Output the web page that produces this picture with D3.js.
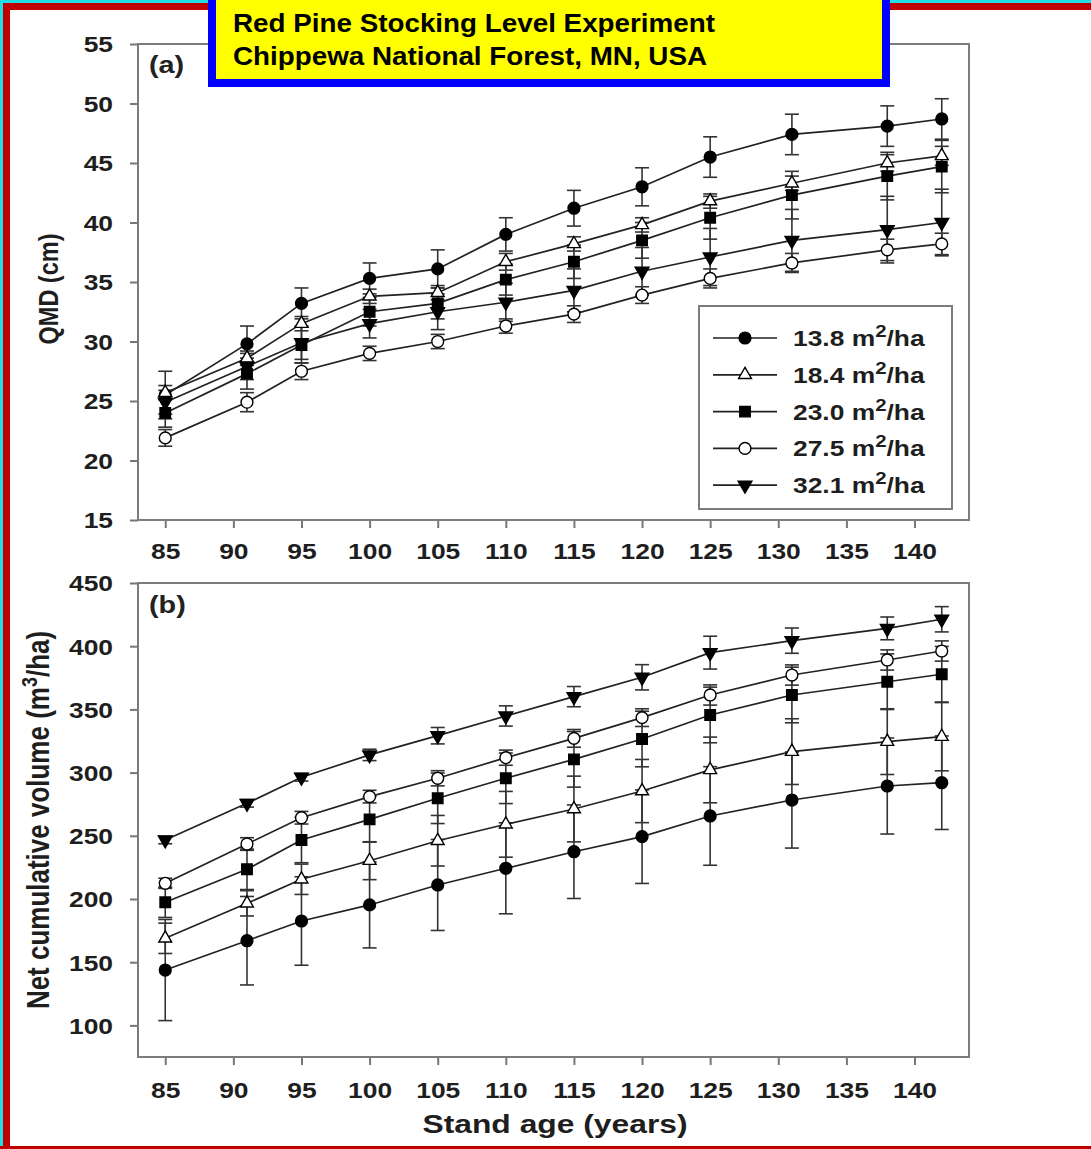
<!DOCTYPE html>
<html lang="en">
<head>
<meta charset="UTF-8">
<title>Red Pine Stocking Level Experiment</title>
<script src="https://cdn.jsdelivr.net/npm/d3@7"></script>
<style>
  body { margin: 0; background: #fff; }
  svg { display: block; }
  text { font-family: "Liberation Sans", Arial, sans-serif; font-weight: bold; }
</style>
</head>
<body>
<script>
// stand ages (years) where plots were measured
const ages = [85, 91, 95, 100, 105, 110, 115, 120, 125, 131, 138, 142]
const ageTicks = [85, 90, 95, 100, 105, 110, 115, 120, 125, 130, 135, 140]
const qmdTicks = [15, 20, 25, 30, 35, 40, 45, 50, 55]
const volTicks = [100, 150, 200, 250, 300, 350, 400, 450]

// stocking levels (m2/ha basal area)
const levels = ["13.8", "18.4", "23.0", "27.5", "32.1"]

// (a) QMD (cm)
const qmd138 = [25.5, 29.8, 33.2, 35.3, 36.1, 39.0, 41.2, 43.0, 45.5, 47.4, 48.1, 48.7]
const qmd184 = [25.7, 28.6, 31.5, 33.8, 34.1, 36.7, 38.2, 39.8, 41.8, 43.3, 45.0, 45.6]
const qmd230 = [24.0, 27.3, 29.7, 32.5, 33.2, 35.2, 36.7, 38.5, 40.4, 42.3, 43.9, 44.7]
const qmd275 = [21.9, 24.9, 27.5, 29.0, 30.0, 31.3, 32.3, 33.9, 35.3, 36.6, 37.7, 38.2]
const qmd321 = [24.9, 27.9, 29.9, 31.5, 32.5, 33.3, 34.3, 35.9, 37.1, 38.5, 39.4, 40.0]
const qmdErr138 = [2.0, 1.5, 1.3, 1.3, 1.6, 1.4, 1.5, 1.6, 1.7, 1.7, 1.7, 1.7]
const qmdErr184 = [0.6, 0.6, 0.6, 0.6, 0.6, 0.7, 0.6, 0.6, 0.6, 0.6, 0.7, 0.8]
const qmdErr230 = [1.2, 1.3, 1.5, 1.2, 1.3, 1.3, 1.4, 1.5, 1.8, 2.0, 2.0, 2.2]
const qmdErr275 = [0.7, 0.8, 0.7, 0.6, 0.6, 0.6, 0.7, 0.7, 0.8, 0.8, 0.9, 0.9]
const qmdErr321 = [1.0, 1.1, 1.4, 1.2, 1.5, 1.6, 1.8, 2.0, 2.4, 2.6, 2.8, 2.8]

// (b) net cumulative volume (m3/ha)
const vol138 = [143.8, 167.0, 182.6, 195.3, 211.1, 224.3, 237.4, 249.3, 265.7, 278.3, 289.4, 292.0]
const vol184 = [168.9, 196.6, 215.6, 230.3, 246.1, 259.1, 271.2, 285.4, 302.1, 316.6, 324.5, 328.4]
const vol230 = [197.4, 223.5, 246.7, 263.0, 279.7, 295.5, 310.5, 326.6, 345.6, 361.4, 371.9, 377.8]
const vol275 = [212.4, 243.5, 264.3, 281.0, 295.5, 311.8, 327.1, 343.5, 361.4, 377.2, 389.1, 396.2]
const vol321 = [246.7, 275.7, 296.3, 314.0, 329.2, 344.8, 360.1, 375.4, 394.9, 404.4, 414.1, 421.3]
const volErr138 = [40, 35, 35, 34, 36, 36, 37, 37, 39, 38, 38, 37]
const volErr184 = [12, 10, 12, 15, 20, 26, 26, 25, 26, 26, 26, 27]
const volErr230 = [12, 16, 18, 18, 20, 20, 22, 22, 22, 22, 22, 22]
const volErr275 = [4, 5, 5, 5, 6, 6, 7, 7, 8, 8, 8, 8]
const volErr321 = [3, 3, 3, 4.5, 6.5, 8, 8, 10, 13, 10, 9, 10]

const W = 1091, H = 1149
const SX = 1.2   // the figure is stretched sideways, so are its letters

// marker look per level
const markers = {
    "13.8": {type: d3.symbolCircle, size: 110, fill: "#000", rot: 0},
    "18.4": {type: d3.symbolTriangle, size: 72, fill: "#fff", rot: 0},
    "23.0": {type: d3.symbolSquare, size: 110, fill: "#000", rot: 0},
    "27.5": {type: d3.symbolCircle, size: 110, fill: "#fff", rot: 0},
    "32.1": {type: d3.symbolTriangle, size: 82, fill: "#000", rot: 180}
}

const svg = d3.select("body").append("svg").attr("width", W).attr("height", H)
svg.append("rect").attr("width", W).attr("height", H).attr("fill", "#fff")

const x = d3.scaleLinear().domain([83, 144]).range([138, 969])

const panels = [
    {
        name: "(a)",
        y: d3.scaleLinear().domain([15, 55]).range([520, 44]),
        ticks: qmdTicks,
        values: [qmd138, qmd184, qmd230, qmd275, qmd321],
        errors: [qmdErr138, qmdErr184, qmdErr230, qmdErr275, qmdErr321],
        nameY: 73
    },
    {
        name: "(b)",
        y: d3.scaleLinear().domain([75, 450]).range([1057, 583]),
        ticks: volTicks,
        values: [vol138, vol184, vol230, vol275, vol321],
        errors: [volErr138, volErr184, volErr230, volErr275, volErr321],
        nameY: 613
    }
]

function drawPanel(p, labelGap) {
    const g = svg.append("g")
    const [y0, y1] = p.y.range()

    //Axes, ticks outward
    const yAxis = d3.axisLeft(p.y).tickValues(p.ticks).tickSize(8).tickSizeOuter(0)
    const ya = g.append("g").attr("transform", `translate(${x.range()[0]},0)`).call(yAxis)
    ya.select(".domain").remove()
    ya.selectAll("line").attr("stroke", "#777").attr("stroke-width", 2)
    ya.selectAll("text")
        .attr("x", -25 / SX).attr("dy", "0.36em")
        .attr("transform", `scale(${SX},1)`)
        .style("font-size", "22px").attr("fill", "#1e1e1e")

    const xAxis = d3.axisBottom(x).tickValues(ageTicks).tickSize(8).tickSizeOuter(0)
    const xa = g.append("g").attr("transform", `translate(0,${y0})`).call(xAxis)
    xa.select(".domain").remove()
    xa.selectAll("line").attr("stroke", "#777").attr("stroke-width", 2)
    xa.selectAll("text")
        .attr("y", labelGap).attr("dy", null)
        .attr("transform", `scale(${SX},1)`)
        .style("font-size", "22px").attr("fill", "#1e1e1e")

    //Frame
    g.append("rect")
        .attr("x", x.range()[0]).attr("y", y1)
        .attr("width", x.range()[1] - x.range()[0]).attr("height", y0 - y1)
        .attr("fill", "none").attr("stroke", "#7c7c7c").attr("stroke-width", 2)

    g.append("text")
        .attr("transform", `translate(149,${p.nameY}) scale(${SX},1)`)
        .style("font-size", "24px").attr("fill", "#222")
        .text(p.name)

    //Error bars
    levels.forEach((lev, i) => {
        const eb = g.append("g").attr("stroke", "#333").attr("stroke-width", 1.6)
        ages.forEach((a, j) => {
            const v = p.values[i][j], e = p.errors[i][j]
            const cx = x(a)
            eb.append("line").attr("x1", cx).attr("x2", cx).attr("y1", p.y(v - e)).attr("y2", p.y(v + e))
            eb.append("line").attr("x1", cx - 7).attr("x2", cx + 7).attr("y1", p.y(v - e)).attr("y2", p.y(v - e))
            eb.append("line").attr("x1", cx - 7).attr("x2", cx + 7).attr("y1", p.y(v + e)).attr("y2", p.y(v + e))
        })
    })

    //Lines
    const line = d3.line().x((d, j) => x(ages[j])).y(d => p.y(d))
    levels.forEach((lev, i) => {
        g.append("path").datum(p.values[i])
            .attr("d", line)
            .attr("fill", "none").attr("stroke", "#222").attr("stroke-width", 1.7)
    })

    //Markers
    levels.forEach((lev, i) => {
        const m = markers[lev]
        g.append("g").selectAll("path")
            .data(p.values[i])
            .enter()
            .append("path")
            .attr("d", d3.symbol().type(m.type).size(m.size))
            .attr("transform", (d, j) => `translate(${x(ages[j])},${p.y(d)}) rotate(${m.rot})`)
            .attr("fill", m.fill).attr("stroke", "#000").attr("stroke-width", 1.4)
    })
}

drawPanel(panels[0], 39)
drawPanel(panels[1], 41)

//Legend in panel (a)
const legend = svg.append("g").attr("id", "legend")
legend.append("rect").attr("x", 699).attr("y", 306).attr("width", 253).attr("height", 203)
    .attr("fill", "#fff").attr("stroke", "#7c7c7c").attr("stroke-width", 2)
levels.forEach((lev, i) => {
    const ly = 338 + i * 36.8
    const m = markers[lev]
    legend.append("line").attr("x1", 713).attr("x2", 777).attr("y1", ly).attr("y2", ly)
        .attr("stroke", "#222").attr("stroke-width", 1.7)
    legend.append("path")
        .attr("d", d3.symbol().type(m.type).size(m.size))
        .attr("transform", `translate(745,${ly}) rotate(${m.rot})`)
        .attr("fill", m.fill).attr("stroke", "#000").attr("stroke-width", 1.4)
    const t = legend.append("text")
        .attr("transform", `translate(793,${ly + 8}) scale(${SX},1)`)
        .style("font-size", "22px").attr("fill", "#1e1e1e")
    t.append("tspan").text(lev + " m")
    t.append("tspan").attr("dy", -9).style("font-size", "17px").text("2")
    t.append("tspan").attr("dy", 9).text("/ha")
})

//Axis titles
svg.append("text")
    .attr("transform", `translate(58,289) scale(${SX},1) rotate(-90)`)
    .attr("text-anchor", "middle")
    .style("font-size", "23.5px").attr("fill", "#1e1e1e")
    .text("QMD (cm)")

const yl = svg.append("text")
    .attr("transform", `translate(49,820) scale(${SX},1) rotate(-90)`)
    .attr("text-anchor", "middle")
    .style("font-size", "26px").attr("fill", "#1e1e1e")
yl.append("tspan").text("Net cumulative volume (m")
yl.append("tspan").attr("dy", -10).style("font-size", "18px").text("3")
yl.append("tspan").attr("dy", 10).text("/ha)")

svg.append("text")
    .attr("transform", `translate(555,1133) scale(${SX},1)`)
    .attr("text-anchor", "middle")
    .style("font-size", "26.5px").attr("fill", "#1e1e1e")
    .text("Stand age (years)")

//Outer frame
svg.append("rect").attr("x", 0).attr("y", 0).attr("width", 3).attr("height", H).attr("fill", "#1fdde3")
svg.append("rect").attr("x", 0).attr("y", 0).attr("width", W).attr("height", 3).attr("fill", "#1fdde3")
svg.append("rect").attr("x", 3).attr("y", 3).attr("width", 7).attr("height", H - 3).attr("fill", "#c00000")
svg.append("rect").attr("x", 3).attr("y", 3).attr("width", W - 3).attr("height", 7).attr("fill", "#c00000")
svg.append("rect").attr("x", 0).attr("y", H - 3).attr("width", W).attr("height", 3).attr("fill", "#c00000")

//Title box
svg.append("rect").attr("x", 212).attr("y", -10).attr("width", 674).attr("height", 93)
    .attr("fill", "#ffff00").attr("stroke", "#0000ff").attr("stroke-width", 8)
svg.append("text").attr("x", 233).attr("y", 32)
    .attr("textLength", 482).attr("lengthAdjust", "spacingAndGlyphs")
    .style("font-size", "26.5px").attr("fill", "#000")
    .text("Red Pine Stocking Level Experiment")
svg.append("text").attr("x", 233).attr("y", 65)
    .attr("textLength", 474).attr("lengthAdjust", "spacingAndGlyphs")
    .style("font-size", "26.5px").attr("fill", "#000")
    .text("Chippewa National Forest, MN, USA")
</script>
</body>
</html>
